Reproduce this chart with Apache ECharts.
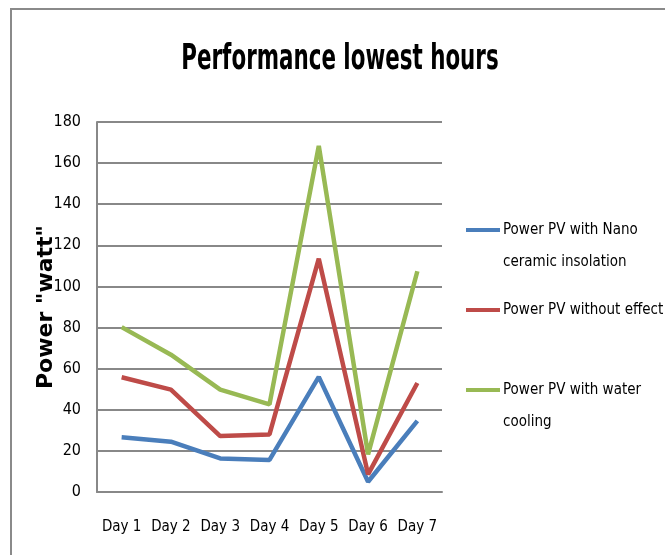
<!DOCTYPE html>
<html>
<head>
<meta charset="utf-8">
<script src="https://cdn.jsdelivr.net/npm/echarts@6/dist/echarts.min.js"></script>
<style>
  html, body { margin: 0; padding: 0; background: #fff; }
  #chart { width: 665px; height: 555px; }
</style>
</head>
<body>
<div id="chart"></div>
<script>
  // data
  var days = ['Day 1', 'Day 2', 'Day 3', 'Day 4', 'Day 5', 'Day 6', 'Day 7']
  var nanoCeramic = [26.6, 24.5, 16.3, 15.6, 56, 5, 34.6]
  var withoutEffect = [55.8, 49.8, 27.2, 28, 113.5, 8.6, 53]
  var waterCooling = [80.2, 66.8, 49.8, 42.6, 168.4, 18.3, 107.4]
  var seriesNames = ['Power PV with Nano\nceramic insolation', 'Power PV without effect', 'Power PV with water\ncooling']
  var chartTitle = 'Performance lowest hours'

  var font = '"DejaVu Sans Condensed", sans-serif'
  var myChart = echarts.init(document.getElementById('chart'))
  var option = {
    animation: false,
    color: ['#4a7ebb', '#be4b48', '#98b954'],
    graphic: [{
      type: 'rect',
      shape: { x: 11, y: 9, width: 700, height: 600 },
      style: { fill: 'none', stroke: '#8a8a8a', lineWidth: 2 }
    }, {
      // title, squeezed to look like the narrow original face
      type: 'text',
      x: 340,
      y: 60,
      scaleX: 0.68,
      style: {
        text: chartTitle,
        font: 'bold 35px "DejaVu Sans Condensed", sans-serif',
        fill: '#000',
        textAlign: 'center',
        textVerticalAlign: 'middle'
      }
    }],
    legend: {
      orient: 'vertical',
      left: 466,
      top: 182,
      padding: 0,
      itemWidth: 34,
      itemHeight: 4,
      itemGap: 16,
      icon: 'rect',
      itemStyle: { borderWidth: 0 },
      // two-line names get an empty first line so the key sits beside line one
      formatter: function (name) {
        return name.indexOf('\n') > -1 ? '{p| }\n' + name : name
      },
      textStyle: {
        fontFamily: font, fontSize: 15, color: '#000', lineHeight: 32, padding: [0, 0, 0, -2],
        rich: { p: { lineHeight: 32, fontSize: 15 } }
      },
      data: seriesNames
    },
    grid: { left: 97, right: 223, top: 122, bottom: 63 },
    xAxis: {
      type: 'category',
      data: days,
      boundaryGap: true,
      axisLine: { lineStyle: { color: '#888', width: 2 } },
      axisTick: { show: false },
      axisLabel: { interval: 0, fontFamily: font, fontSize: 15, color: '#000', margin: 28 }
    },
    yAxis: {
      type: 'value',
      min: 0,
      max: 180,
      interval: 20,
      name: 'Power "watt"',
      nameLocation: 'middle',
      nameGap: 40,
      nameMoveOverlap: false,
      nameTextStyle: { fontFamily: '"DejaVu Sans", sans-serif', fontSize: 22, fontWeight: 'bold', color: '#000' },
      axisLine: { show: true, lineStyle: { color: '#888', width: 2 } },
      axisTick: { show: false },
      axisLabel: { fontFamily: font, fontSize: 16, color: '#000', margin: 16 },
      splitLine: { lineStyle: { color: '#888', width: 2 } }
    },
    series: [
      { name: seriesNames[0], type: 'line', data: nanoCeramic, symbol: 'none', lineStyle: { width: 4.5 } },
      { name: seriesNames[1], type: 'line', data: withoutEffect, symbol: 'none', lineStyle: { width: 4.5 } },
      { name: seriesNames[2], type: 'line', data: waterCooling, symbol: 'none', lineStyle: { width: 4.5 } }
    ]
  }
  myChart.setOption(option)
</script>
</body>
</html>
